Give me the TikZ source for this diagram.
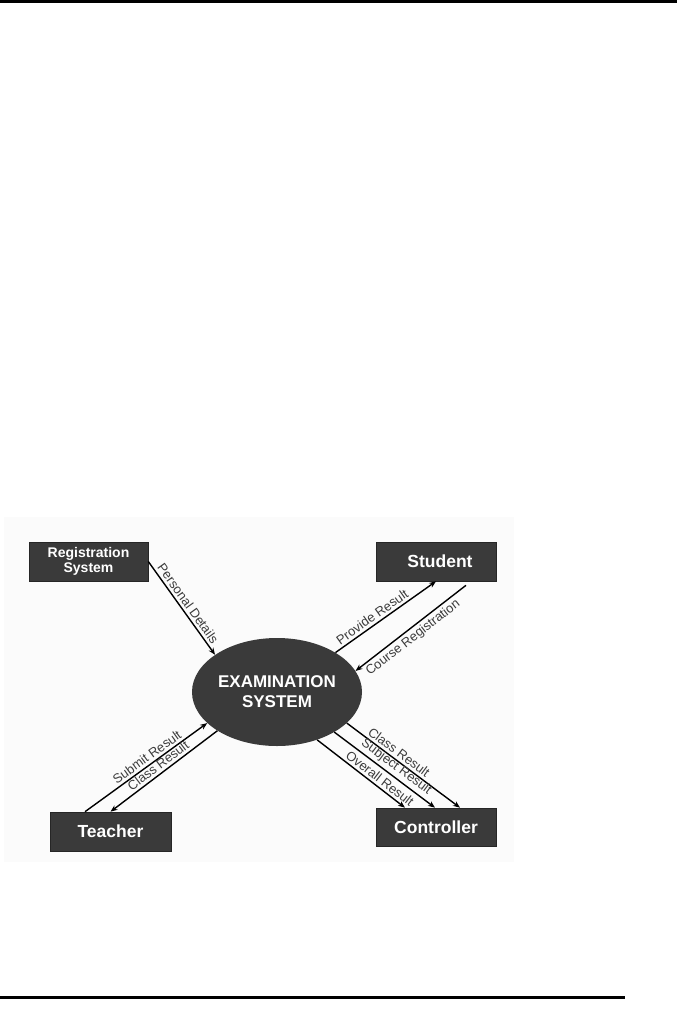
\documentclass[tikz,border=0pt]{standalone}
\usepackage{fontspec}
\setmainfont{Liberation Sans}
\usetikzlibrary{arrows.meta,calc,shapes.geometric}
\definecolor{boxgray}{RGB}{58,58,58}
\definecolor{labgray}{RGB}{60,60,60}
\begin{document}
\begin{tikzpicture}[x=1pt,y=-1pt,
  ent/.style={fill=boxgray,draw=black!85,line width=0.6pt,text=white,
    font=\bfseries\fontsize{17.5}{20}\selectfont,inner sep=0pt},
  proc/.style={ellipse,fill=boxgray,text=white,align=center,
    font=\bfseries\fontsize{17}{20}\selectfont,
    minimum width=170pt,minimum height=108pt,inner sep=0pt},
  flow/.style={line width=1.4pt,-{Stealth[length=7pt,width=5.5pt]}},
  flowr/.style={line width=1.4pt,{Stealth[length=7pt,width=5.5pt]}-},
  lab/.style={sloped,above,text=labgray,font=\fontsize{13}{15}\selectfont,inner sep=2.5pt}]

\useasboundingbox (0,0) rectangle (679,1018);
\fill[white] (0,0) rectangle (679,1018);
\fill[black] (0,0) rectangle (677,3);
\fill[black] (0,996) rectangle (625,999);
\fill[gray!3] (4,517) rectangle (514,862);

\node[ent,minimum width=119pt,minimum height=39pt,align=center,
  font=\bfseries\fontsize{14}{15.5}\selectfont] (reg) at (88.5,561.5) {Registration\\System};
\node[ent,minimum width=120pt,minimum height=39pt] (stu) at (436,561.5) {\hspace*{8pt}Student};
\node[ent,minimum width=121pt,minimum height=39pt] (tea) at (110.5,831.5) {Teacher};
\node[ent,minimum width=120pt,minimum height=38pt] (ctl) at (436,827) {Controller};
\node[proc] (exam) at (277,692) {EXAMINATION\\SYSTEM};

\coordinate (crs) at ($(stu.south)+(30,4)$);
\coordinate (sub) at ($(tea.north)+(-25.5,0)$);
\coordinate (ccl) at ($(ctl.north)+(24,0)$);
\coordinate (csu) at ($(ctl.north)+(-1,0)$);
\coordinate (cov) at ($(ctl.north)+(-31,0)$);

\draw[flow] (reg.east) -- node[lab,pos=0.5]{Personal Details} (exam.149);
\draw[flow] (exam.34) -- node[lab,pos=0.41]{Provide Result} (stu.south);
\draw[flowr] (exam.15) -- node[lab,below,pos=0.47]{Course Registration} (crs);
\draw[flow] (sub) -- node[lab,pos=0.545]{Submit Result} (exam.204);
\draw[flowr] (tea.north) -- node[lab,pos=0.49]{Class Result} (exam.213);
\draw[flow] (exam.336) -- node[lab,pos=0.42]{Class Result} (ccl);
\draw[flow] (exam.325.6) -- node[lab,pos=0.56]{Subject Result} (csu);
\draw[flow] (exam.310) -- node[lab,pos=0.66]{Overall Result} (cov);
\end{tikzpicture}
\end{document}
